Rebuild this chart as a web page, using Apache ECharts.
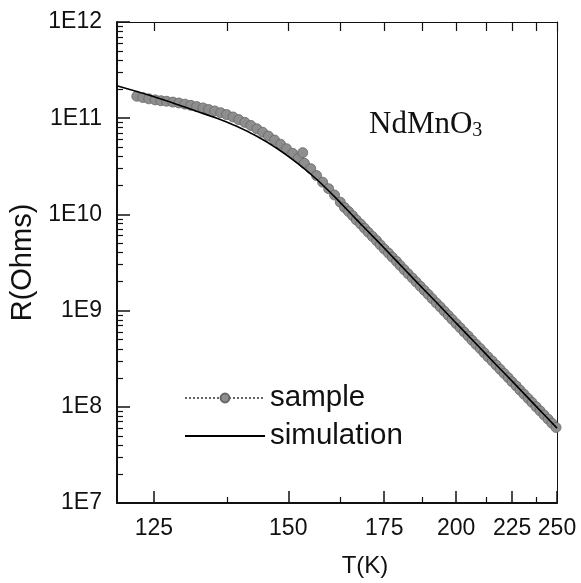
<!DOCTYPE html>
<html><head><meta charset="utf-8">
<script src="https://cdn.jsdelivr.net/npm/echarts@6/dist/echarts.min.js"></script>
<style>html,body{margin:0;padding:0;background:#fff}#c{width:581px;height:583px}</style>
</head><body><div id="c"></div>
<script>
// ---- data (T in K, R in Ohms) ----
const sampleT = [122.4,123.3,124.2,125.2,126.1,127.0,128.0,129.0,130.0,131.0,132.0,133.1,134.1,135.2,136.3,137.4,138.6,139.7,140.9,142.1,143.3,144.5,145.7,147.0,148.3,149.6,151.0,152.3,153.3,153.7,155.2,156.6,158.1,159.6,161.1,162.6,
  163.7,164.8,165.9,166.9,168.1,169.2,170.3,171.5,172.7,173.8,175.0,176.3,177.5,178.8,180.0,181.3,182.6,184.0,185.3,186.7,188.1,189.5,190.9,192.4,193.9,195.4,196.9,198.4,200.0,201.6,203.2,204.9,206.5,208.2,210.0,211.7,213.5,215.4,217.2,219.1,221.0,223.0,224.9,227.0,229.0,231.1,233.3,235.4,237.7,239.9,242.2,244.6,246.9,249.4];
const sampleR = [1.69e11,1.64e11,1.59e11,1.55e11,1.52e11,1.50e11,1.47e11,1.44e11,1.40e11,1.36e11,1.32e11,1.28e11,1.23e11,1.19e11,1.14e11,1.09e11,1.03e11,9.67e10,9.05e10,8.40e10,7.76e10,7.14e10,6.52e10,5.93e10,5.36e10,4.82e10,4.31e10,3.84e10,4.38e10,3.40e10,2.99e10,2.53e10,2.16e10,1.85e10,1.59e10,1.34e10,
  1.18e10,1.07e10,9.69e9,8.77e9,7.94e9,7.19e9,6.51e9,5.89e9,5.34e9,4.83e9,4.37e9,3.96e9,3.59e9,3.25e9,2.94e9,2.66e9,2.41e9,2.18e9,1.98e9,1.79e9,1.62e9,1.47e9,1.33e9,1.20e9,1.09e9,9.85e8,8.92e8,8.08e8,7.31e8,6.62e8,5.99e8,5.43e8,4.91e8,4.45e8,4.03e8,3.65e8,3.30e8,2.99e8,2.71e8,2.45e8,2.22e8,2.01e8,1.82e8,1.65e8,1.49e8,1.35e8,1.22e8,1.11e8,1.00e8,9.08e7,8.22e7,7.44e7,6.74e7,6.10e7];
const simT = [119.5,122.4,125.5,128.7,132.0,135.6,139.3,143.3,147.4,151.9,156.6,161.6,166.9,172.7,178.8,185.3,192.4,200.0,208.3,217.2,227.0,237.7,250.0];
const simR = [2.17e11,1.89e11,1.63e11,1.39e11,1.18e11,9.98e10,8.24e10,6.49e10,4.90e10,3.45e10,2.32e10,1.46e10,8.87e9,5.40e9,3.29e9,2.00e9,1.22e9,7.40e8,4.50e8,2.74e8,1.67e8,1.01e8,6.0e7];
const xTickLabels = [125,150,175,200,225,250];
const xMinorT = [137.5,162.5,187.5,212.5,237.5];
const yDecades = [1e7,1e8,1e9,1e10,1e11,1e12];
const yTickLabels = ['1E7','1E8','1E9','1E10','1E11','1E12'];
const seriesNames = ['sample','simulation'];
const xName = 'T(K)', yName = 'R(Ohms)';
// ---------------------------------
const SANS = '"Liberation Sans", Arial, sans-serif';
const SERIF = '"Liberation Serif", "Times New Roman", serif';
const INK = '#111';
const inv = t => 1 / t;
const xMin = 1 / 250, xMax = 1 / 119.53;
const yMinor = [];
yDecades.slice(0, -1).forEach(d => { for (let k = 2; k <= 9; k++) yMinor.push(k * d); });

const chart = echarts.init(document.getElementById('c'), null, {renderer: 'canvas'});
const baseX = {type: 'value', gridIndex: 0, inverse: true, min: xMin, max: xMax, splitLine: {show: false}};
const baseY = {type: 'log', logBase: 10, gridIndex: 0, min: 1e7, max: 1e12, splitLine: {show: false}, minorTick: {show: false}};
chart.setOption({
  animation: false,
  backgroundColor: '#fff',
  grid: {left: 117, top: 22, right: 24, bottom: 79, containLabel: false},
  title: {
    text: '{a|NdMnO}{b|3}', left: 364, top: 104,
    textStyle: {fontWeight: 'normal', rich: {
      a: {fontFamily: SERIF, fontSize: 31, fontWeight: 'normal', color: INK},
      b: {fontFamily: SERIF, fontSize: 20, fontWeight: 'normal', color: INK, padding: [12, 0, 0, 0]}
    }}
  },
  legend: {
    orient: 'vertical', left: 179, top: 378, itemWidth: 80, itemHeight: 11, itemGap: 8,
    textStyle: {fontFamily: SANS, fontSize: 29.5, color: INK, lineHeight: 30},
    data: [seriesNames[0], {name: seriesNames[1], itemStyle: {opacity: 0}}]
  },
  xAxis: [
    Object.assign({}, baseX, {
      position: 'bottom',
      axisLine: {show: true, onZero: false, lineStyle: {color: INK, width: 2}},
      axisTick: {show: true, inside: true, length: 12, lineStyle: {color: INK, width: 1.5}, customValues: xTickLabels.map(inv)},
      axisLabel: {show: true, customValues: xTickLabels.map(inv), formatter: v => String(Math.round(1 / v)), fontFamily: SANS, fontSize: 23, color: INK, margin: 14},
      name: xName, nameLocation: 'middle', nameGap: 51,
      nameTextStyle: {fontFamily: SANS, fontSize: 24, color: INK, padding: [0, 0, 0, 56]}
    }),
    Object.assign({}, baseX, {
      position: 'bottom',
      axisLine: {show: false, onZero: false},
      axisTick: {show: true, inside: true, length: 6, lineStyle: {color: INK, width: 1.2}, customValues: xMinorT.map(inv)},
      axisLabel: {show: false}
    }),
    Object.assign({}, baseX, {
      position: 'top',
      axisLine: {show: true, onZero: false, lineStyle: {color: INK, width: 1}},
      axisTick: {show: true, inside: true, length: 9, lineStyle: {color: INK, width: 1.2}, customValues: xTickLabels.concat(xMinorT).map(inv)},
      axisLabel: {show: false}
    })
  ],
  yAxis: [
    Object.assign({}, baseY, {
      position: 'left',
      axisLine: {show: true, onZero: false, lineStyle: {color: INK, width: 2}},
      axisTick: {show: true, inside: true, length: 13, lineStyle: {color: INK, width: 1.5}, customValues: yDecades},
      axisLabel: {show: true, customValues: yDecades, formatter: v => yTickLabels[Math.round(Math.log10(v)) - 7], fontFamily: SANS, fontSize: 23, color: INK, margin: 15},
      name: yName, nameLocation: 'middle', nameGap: 75, nameRotate: 90,
      nameTextStyle: {fontFamily: SANS, fontSize: 29, color: INK}
    }),
    Object.assign({}, baseY, {
      position: 'left',
      axisLine: {show: false, onZero: false},
      axisTick: {show: true, inside: true, length: 6, lineStyle: {color: INK, width: 1.2}, customValues: yMinor},
      axisLabel: {show: false}
    }),
    Object.assign({}, baseY, {
      position: 'right',
      axisLine: {show: true, onZero: false, lineStyle: {color: INK, width: 1}},
      axisTick: {show: false},
      axisLabel: {show: false}
    })
  ],
  series: [
    {
      name: seriesNames[0], type: 'line', xAxisIndex: 0, yAxisIndex: 0,
      data: sampleT.map((t, i) => [inv(t), sampleR[i]]),
      symbol: 'circle', symbolSize: 10, showSymbol: true,
      itemStyle: {color: '#8e8e8e', borderColor: '#666', borderWidth: 0.8},
      lineStyle: {type: 'dotted', width: 1, color: '#666'},
      z: 2
    },
    {
      name: seriesNames[1], type: 'line', xAxisIndex: 0, yAxisIndex: 0,
      data: simT.map((t, i) => [inv(t), simR[i]]),
      symbol: 'none', smooth: 0.3,
      itemStyle: {color: '#000'},
      lineStyle: {color: '#000', width: 1.6},
      z: 3
    }
  ]
});
</script>
</body></html>
